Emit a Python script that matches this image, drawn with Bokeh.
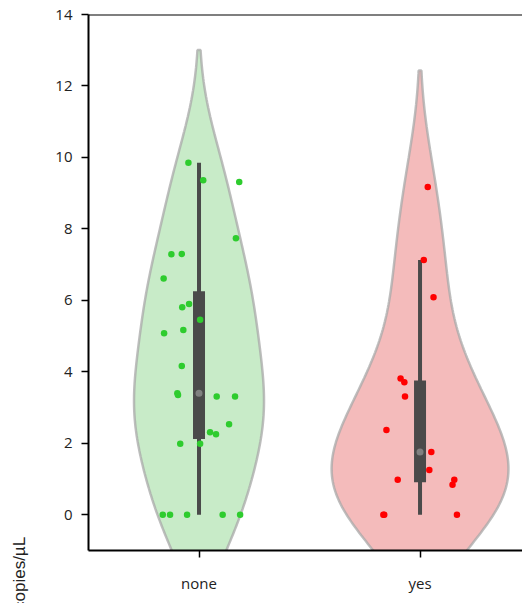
import numpy as np
from bokeh.plotting import figure
from bokeh.layouts import row
from bokeh.models import FixedTicker, Span, Div
from bokeh.embed import file_html
from bokeh.resources import INLINE

# ---- data ----
categories = ["none", "yes"]

none_values = [9.85, 9.36, 9.31, 7.74, 7.29, 7.30, 6.61, 5.90, 5.81, 5.46, 5.08, 5.17,
               4.16, 3.40, 3.35, 3.31, 3.31, 2.53, 2.31, 2.25, 1.99, 1.99,
               0.0, 0.0, 0.0, 0.0, 0.0]
none_jitter = [-0.048, 0.019, 0.182, 0.167, -0.125, -0.078, -0.160, -0.045, -0.076, 0.005, -0.158, -0.071,
               -0.078, -0.098, -0.095, 0.080, 0.163, 0.136, 0.050, 0.077, -0.085, 0.005,
               -0.164, -0.131, -0.054, 0.107, 0.186]

yes_values = [9.17, 7.13, 6.09, 3.81, 3.71, 3.31, 2.37, 1.76, 1.25, 0.98, 0.98, 0.84, 0.0, 0.0, 0.0]
yes_jitter = [0.035, 0.017, 0.061, -0.088, -0.071, -0.068, -0.152, 0.051, 0.042, -0.101, 0.155, 0.147,
              -0.166, -0.162, 0.167]

y_ticks = [0, 2, 4, 6, 8, 10, 12, 14]
y_label = "copies/µL"

groups = [none_values, yes_values]
jitters = [none_jitter, yes_jitter]
fill_colors = ["#c8ebc8", "#f4bbbb"]
point_colors = ["#2ecc2e", "#ff0000"]

FONT = "Open Sans"
LABEL_W = 30

p = figure(width=522 - LABEL_W, height=595, output_backend="svg", toolbar_location=None,
           x_range=(-0.5, 1.4636), y_range=(-1, 14),
           min_border_left=88 - LABEL_W, min_border_right=0, min_border_top=14, min_border_bottom=43)
p.outline_line_color = None
p.grid.visible = False
p.background_fill_color = "white"

# ---- violins (gaussian KDE, scott bandwidth, cut=2, area scaling) ----
kdes = []
for vals in groups:
    d = np.asarray(vals, dtype=float)
    n = len(d)
    bw = d.std(ddof=1) * n ** (-1 / 5)
    grid = np.linspace(d.min() - 2 * bw, d.max() + 2 * bw, 200)
    dens = np.exp(-0.5 * ((grid[:, None] - d[None, :]) / bw) ** 2).sum(axis=1) / (n * bw * np.sqrt(2 * np.pi))
    kdes.append((grid, dens))
gmax = max(k[1].max() for k in kdes)

for i, (grid, dens) in enumerate(kdes):
    half = 0.4 * dens / gmax
    xs = np.concatenate([i - half, (i + half)[::-1]])
    ys = np.concatenate([grid, grid[::-1]])
    p.patch(xs, ys, fill_color=fill_colors[i], fill_alpha=1.0,
            line_color="#a8a8a8", line_width=2.5, line_alpha=0.75)

# ---- inner box ----
for i, vals in enumerate(groups):
    d = np.asarray(vals, dtype=float)
    q1, med, q3 = np.percentile(d, [25, 50, 75])
    iqr = q3 - q1
    lo = d[d >= q1 - 1.5 * iqr].min()
    hi = d[d <= q3 + 1.5 * iqr].max()
    p.segment(x0=[i], y0=[lo], x1=[i], y1=[hi], line_color="#4a4a4a", line_width=4)
    p.rect(x=[i], y=[(q1 + q3) / 2], width=12, width_units="screen", height=q3 - q1,
           fill_color="#4a4a4a", line_color=None)
    p.scatter(x=[i], y=[med], size=7, fill_color="#808080", line_color=None)

# ---- strip points ----
for i, vals in enumerate(groups):
    xs = [i + j for j in jitters[i]]
    p.scatter(x=xs, y=vals, size=6.5, fill_color=point_colors[i], line_color=None)

# ---- axes ----
p.xaxis.ticker = FixedTicker(ticks=[0, 1])
p.xaxis.major_label_overrides = {i: c for i, c in enumerate(categories)}
p.yaxis.ticker = FixedTicker(ticks=y_ticks)
for ax in (p.xaxis, p.yaxis):
    ax.axis_line_color = "black"
    ax.axis_line_width = 2
    ax.major_tick_line_color = "black"
    ax.major_tick_line_width = 1.5
    ax.major_tick_out = 7
    ax.major_tick_in = 0
    ax.minor_tick_line_color = None
    ax.major_label_text_font = FONT
    ax.major_label_text_font_size = "15px"
    ax.major_label_text_color = "#222222"
p.yaxis.major_label_standoff = 9
p.xaxis.major_label_standoff = 15

p.add_layout(Span(location=14, dimension="width", line_color="black", line_width=2))

# ---- y axis label in its own narrow strip (placed low, as in the reference) ----
label_html = (
    '<div style="display:inline-block; white-space:nowrap; '
    "font-family:'Liberation Sans', Arial, sans-serif; font-size:17px; line-height:17px; "
    'color:#222222; transform-origin:0 0; transform:translate(11px, 610px) rotate(-90deg);">'
    + y_label + "</div>"
)
lab = Div(text=label_html, width=LABEL_W, height=595,
          styles={"overflow": "visible", "margin": "0", "padding": "0"})

layout = row(lab, p, spacing=0)
open("out.html", "w").write(file_html(layout, INLINE))
